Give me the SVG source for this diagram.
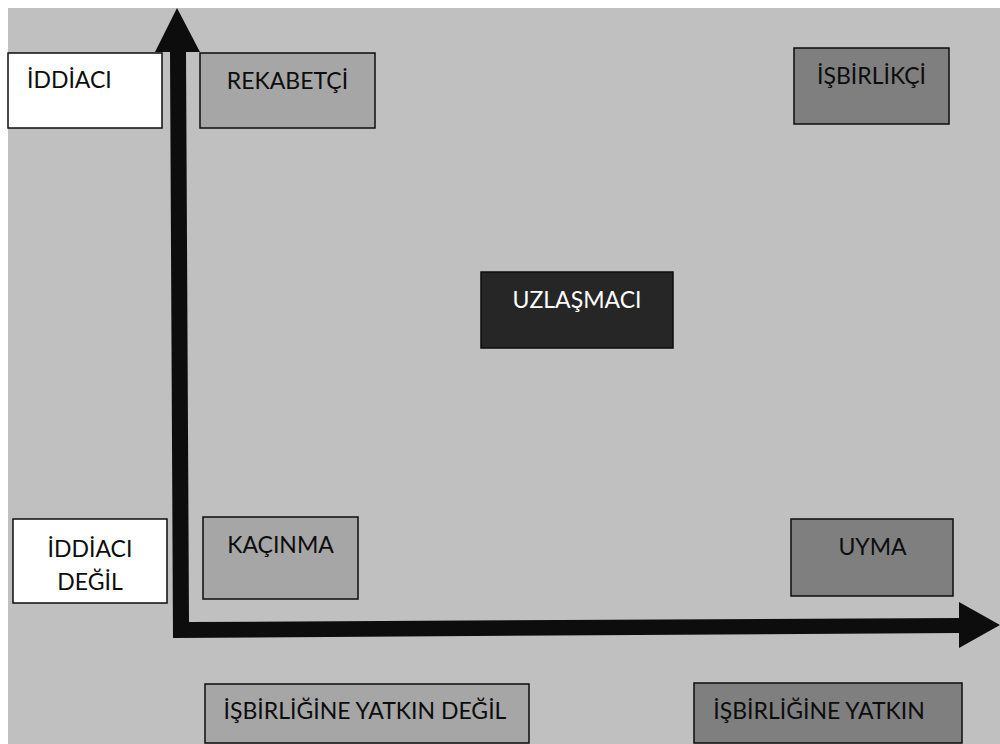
<svg xmlns="http://www.w3.org/2000/svg" width="1000" height="744" viewBox="0 0 1000 744">
  <style>
    .box { stroke: #0d0d0d; stroke-width: 1.5; }
    .white { fill: #ffffff; }
    .light { fill: #a6a6a6; }
    .mid { fill: #7f7f7f; }
    .dark { fill: #262626; }
    .lbl { font-family: Lato, "Open Sans", "Liberation Sans", sans-serif; font-size: 23px; fill: #0d0d0d; }
    .c { text-anchor: middle; }
    .inv { fill: #ffffff; }
  </style>

  <!-- page -->
  <rect x="0" y="0" width="1000" height="744" fill="#ffffff"/>
  <rect x="8" y="8" width="992" height="736" fill="#c0c0c0"/>

  <!-- axes: assertiveness (up) and cooperativeness (right) -->
  <g id="connectors">
    <polygon fill="#0d0d0d"
      points="177,8 200,52 186,52 189,622 959,618 959,602 1000,625 959,648 959,633 173,638 170,52 155,52"/>
  </g>

  <g id="iddiaci">
    <rect class="box white" x="8" y="53" width="154" height="75"/>
    <text class="lbl" x="27" y="88">İDDİACI</text>
  </g>

  <g id="rekabetci">
    <rect class="box light" x="200" y="53" width="175" height="75"/>
    <text class="lbl c" x="287.5" y="89">REKABETÇİ</text>
  </g>

  <g id="isbirlikci">
    <rect class="box mid" x="794" y="48" width="155" height="76"/>
    <text class="lbl c" x="871.5" y="84">İŞBİRLİKÇİ</text>
  </g>

  <g id="uzlasmaci">
    <rect class="box dark" x="481" y="272" width="192" height="76"/>
    <text class="lbl c inv" x="577" y="308">UZLAŞMACI</text>
  </g>

  <g id="iddiaci-degil">
    <rect class="box white" x="13" y="519" width="154" height="84"/>
    <text class="lbl c" x="90" y="557">İDDİACI</text>
    <text class="lbl c" x="90" y="590">DEĞİL</text>
  </g>

  <g id="kacinma">
    <rect class="box light" x="203" y="517" width="155" height="82"/>
    <text class="lbl c" x="280.5" y="553">KAÇINMA</text>
  </g>

  <g id="uyma">
    <rect class="box mid" x="791" y="519" width="162" height="77"/>
    <text class="lbl c" x="872.5" y="555">UYMA</text>
  </g>

  <g id="isbirligine-yatkin-degil">
    <rect class="box light" x="205" y="684" width="324" height="59"/>
    <text class="lbl c" x="365" y="719">İŞBİRLİĞİNE YATKIN DEĞİL</text>
  </g>

  <g id="isbirligine-yatkin">
    <rect class="box mid" x="694" y="683" width="268" height="60"/>
    <text class="lbl c" x="819" y="719">İŞBİRLİĞİNE YATKIN</text>
  </g>
</svg>
